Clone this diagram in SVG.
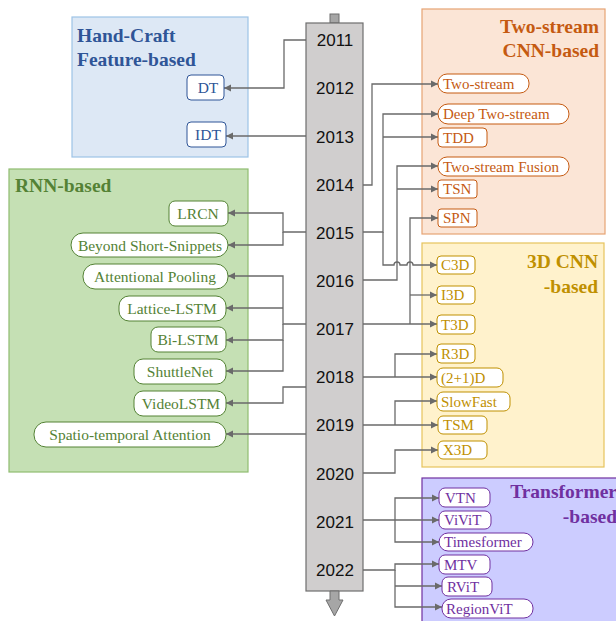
<svg xmlns="http://www.w3.org/2000/svg" width="616" height="621" viewBox="0 0 616 621">
<style>
.yr{font-family:"Liberation Sans",Arial,sans-serif;font-size:17px;fill:#111;text-anchor:middle}
.ttl{font-family:"Liberation Serif","Times New Roman",serif;font-size:19.5px;font-weight:bold}
.nt{font-family:"Liberation Serif","Times New Roman",serif;font-size:15px}
.nl{font-family:"Liberation Serif","Times New Roman",serif;font-size:15.5px;text-anchor:middle}
.c path{fill:none;stroke:#6a6a6a;stroke-width:1.3}
.bn rect{fill:#fff;stroke:#2f5597;stroke-width:1}
.bn text{fill:#2f5597}
.gn rect{fill:#fff;stroke:#548235;stroke-width:1}
.gn text{fill:#548235}
.on rect{fill:#fff;stroke:#c55a11;stroke-width:1}
.on text{fill:#c55a11}
.yn rect{fill:#fff;stroke:#bf9000;stroke-width:1}
.yn text{fill:#bf9000}
.pn rect{fill:#fff;stroke:#7030a0;stroke-width:1}
.pn text{fill:#7030a0}
</style>
<defs>
<marker id="ah" markerWidth="8" markerHeight="8" refX="7" refY="4" orient="auto" markerUnits="userSpaceOnUse"><path d="M0,0.5 L7,4 L0,7.5 z" fill="#6a6a6a"/></marker>
</defs>

<!-- category boxes -->
<g id="hand-craft">
<rect x="72" y="17" width="176" height="140" fill="#dde8f5" stroke="#9dc3e6" stroke-width="1.2"/>
<text class="ttl" x="77" y="42" fill="#2f5597">Hand-Craft</text>
<text class="ttl" x="77" y="66" fill="#2f5597">Feature-based</text>
</g>
<g id="rnn">
<rect x="9" y="169" width="239" height="303" fill="#c5e0b4" stroke="#8fbc70" stroke-width="1.2"/>
<text class="ttl" x="15" y="192" fill="#548235">RNN-based</text>
</g>
<g id="two-stream">
<rect x="422" y="9" width="183" height="225" fill="#fbe5d6" stroke="#e6a373" stroke-width="1.2"/>
<text class="ttl" x="599" y="33" fill="#c55a11" text-anchor="end">Two-stream</text>
<text class="ttl" x="599" y="57" fill="#c55a11" text-anchor="end">CNN-based</text>
</g>
<g id="cnn3d">
<rect x="422" y="243" width="182" height="224" fill="#fff2cc" stroke="#e6c35c" stroke-width="1.2"/>
<text class="ttl" x="598" y="268" fill="#bf9000" text-anchor="end">3D CNN</text>
<text class="ttl" x="598" y="293" fill="#bf9000" text-anchor="end">-based</text>
</g>
<g id="transformer">
<rect x="422" y="478" width="200" height="150" fill="#ccccff" stroke="#7030a0" stroke-width="1.2"/>
<text class="ttl" x="617" y="498" fill="#7030a0" text-anchor="end">Transformer</text>
<text class="ttl" x="617" y="523" fill="#7030a0" text-anchor="end">-based</text>
</g>

<!-- timeline -->
<g id="timeline">
<rect x="330" y="14" width="9" height="9" fill="#a6a6a6" stroke="#6e6e6e" stroke-width="1"/>
<rect x="306" y="23" width="57" height="568" fill="#d0cece" stroke="#6e6e6e" stroke-width="1.2"/>
<polygon points="330,591 339,591 339,600 343,600 334.5,616 326,600 330,600" fill="#a6a6a6" stroke="#6e6e6e" stroke-width="1"/>
<text class="yr" x="335" y="46">2011</text>
<text class="yr" x="335" y="94">2012</text>
<text class="yr" x="335" y="143">2013</text>
<text class="yr" x="335" y="191">2014</text>
<text class="yr" x="335" y="239">2015</text>
<text class="yr" x="335" y="287">2016</text>
<text class="yr" x="335" y="335">2017</text>
<text class="yr" x="335" y="383">2018</text>
<text class="yr" x="335" y="431">2019</text>
<text class="yr" x="335" y="480">2020</text>
<text class="yr" x="335" y="528">2021</text>
<text class="yr" x="335" y="576">2022</text>
</g>

<!-- connectors -->
<g id="connectors" class="c">
<path d="M306,40 H284 V88 H224" marker-end="url(#ah)"/>
<path d="M306,136 H226" marker-end="url(#ah)"/>
<path d="M306,232 H283 V213 H228" marker-end="url(#ah)"/>
<path d="M283,232 V245 H228" marker-end="url(#ah)"/>
<path d="M306,324 H283 V276 H228" marker-end="url(#ah)"/>
<path d="M283,308 H226" marker-end="url(#ah)"/>
<path d="M283,324 V340 H226" marker-end="url(#ah)"/>
<path d="M283,340 V371 H226" marker-end="url(#ah)"/>
<path d="M306,387 H283 V403 H226" marker-end="url(#ah)"/>
<path d="M306,434 H226" marker-end="url(#ah)"/>

<path d="M363,185 H372 V84 H438" marker-end="url(#ah)"/>
<path d="M363,232 H383 V114 H438" marker-end="url(#ah)"/>
<path d="M383,137 H438" marker-end="url(#ah)"/>
<path d="M383,232 V265 H394 a3,3 0 0 1 6,0 H407 a3,3 0 0 1 6,0 H437" marker-end="url(#ah)"/>
<path d="M363,280 H397 V166 H438" marker-end="url(#ah)"/>
<path d="M397,189 H438" marker-end="url(#ah)"/>
<path d="M363,324 H437" marker-end="url(#ah)"/>
<path d="M410,324 V218 H438" marker-end="url(#ah)"/>
<path d="M410,295 H437" marker-end="url(#ah)"/>
<path d="M363,377 H437" marker-end="url(#ah)"/>
<path d="M395,377 V354 H437" marker-end="url(#ah)"/>
<path d="M363,425 H438" marker-end="url(#ah)"/>
<path d="M395,425 V401 H437" marker-end="url(#ah)"/>
<path d="M363,473 H395 V450 H438" marker-end="url(#ah)"/>
<path d="M363,520 H439" marker-end="url(#ah)"/>
<path d="M395,520 V498 H439" marker-end="url(#ah)"/>
<path d="M395,520 V542 H439" marker-end="url(#ah)"/>
<path d="M363,570 H395 V564 H439" marker-end="url(#ah)"/>
<path d="M395,570 V607 H442" marker-end="url(#ah)"/>
<path d="M395,586 H442" marker-end="url(#ah)"/>
</g>

<!-- hand-craft nodes -->
<g id="n-dt" class="bn"><rect x="187" y="75" width="37" height="25" rx="4"/><text class="nl" x="208" y="93">DT</text></g>
<g id="n-idt" class="bn"><rect x="187" y="122" width="39" height="25" rx="4"/><text class="nl" x="208" y="140">IDT</text></g>

<!-- RNN nodes -->
<g id="n-lrcn" class="gn"><rect x="169" y="201" width="59" height="25" rx="6"/><text class="nl" x="198" y="219">LRCN</text></g>
<g id="n-bss" class="gn"><rect x="71" y="233" width="157" height="24" rx="12"/><text class="nl" x="150" y="250.5">Beyond Short-Snippets</text></g>
<g id="n-ap" class="gn"><rect x="83" y="264" width="145" height="25" rx="12"/><text class="nl" x="155" y="282">Attentional Pooling</text></g>
<g id="n-lattice" class="gn"><rect x="119" y="296" width="107" height="25" rx="10"/><text class="nl" x="172" y="314">Lattice-LSTM</text></g>
<g id="n-bilstm" class="gn"><rect x="151" y="327" width="75" height="25" rx="7"/><text class="nl" x="188" y="345">Bi-LSTM</text></g>
<g id="n-shuttle" class="gn"><rect x="134" y="359" width="92" height="25" rx="9"/><text class="nl" x="180" y="377">ShuttleNet</text></g>
<g id="n-videolstm" class="gn"><rect x="134" y="391" width="92" height="25" rx="9"/><text class="nl" x="181" y="409">VideoLSTM</text></g>
<g id="n-sta" class="gn"><rect x="34" y="422" width="192" height="25" rx="12"/><text class="nl" x="130" y="440">Spatio-temporal Attention</text></g>

<!-- two-stream nodes -->
<g id="n-twostream" class="on"><rect x="438" y="74" width="91" height="19" rx="9"/><text class="nt" x="443" y="89">Two-stream</text></g>
<g id="n-deep" class="on"><rect x="438" y="104" width="131" height="20" rx="10"/><text class="nt" x="443" y="119">Deep Two-stream</text></g>
<g id="n-tdd" class="on"><rect x="438" y="128" width="49" height="19" rx="4"/><text class="nt" x="443" y="143">TDD</text></g>
<g id="n-fusion" class="on"><rect x="438" y="157" width="131" height="19" rx="9"/><text class="nt" x="443" y="171.5">Two-stream Fusion</text></g>
<g id="n-tsn" class="on"><rect x="438" y="180" width="39" height="18" rx="3"/><text class="nt" x="443" y="194">TSN</text></g>
<g id="n-spn" class="on"><rect x="438" y="209" width="39" height="18" rx="3"/><text class="nt" x="443" y="223">SPN</text></g>

<!-- 3D CNN nodes -->
<g id="n-c3d" class="yn"><rect x="437" y="256" width="38" height="18" rx="4"/><text class="nt" x="441" y="270">C3D</text></g>
<g id="n-i3d" class="yn"><rect x="437" y="286" width="38" height="18" rx="4"/><text class="nt" x="441" y="300">I3D</text></g>
<g id="n-t3d" class="yn"><rect x="437" y="315" width="38" height="19" rx="4"/><text class="nt" x="441" y="329.5">T3D</text></g>
<g id="n-r3d" class="yn"><rect x="437" y="344" width="38" height="19" rx="4"/><text class="nt" x="441" y="359">R3D</text></g>
<g id="n-21d" class="yn"><rect x="437" y="368" width="66" height="19" rx="6"/><text class="nt" x="441" y="382.5">(2+1)D</text></g>
<g id="n-slowfast" class="yn"><rect x="437" y="392" width="73" height="19" rx="6"/><text class="nt" x="441" y="406.5">SlowFast</text></g>
<g id="n-tsm" class="yn"><rect x="438" y="416" width="49" height="18" rx="5"/><text class="nt" x="443" y="430">TSM</text></g>
<g id="n-x3d" class="yn"><rect x="438" y="441" width="49" height="18" rx="5"/><text class="nt" x="443" y="455">X3D</text></g>

<!-- transformer nodes -->
<g id="n-vtn" class="pn"><rect x="439" y="488" width="51" height="19" rx="6"/><text class="nt" x="445" y="502.5">VTN</text></g>
<g id="n-vivit" class="pn"><rect x="439" y="511" width="52" height="18" rx="6"/><text class="nt" x="444" y="525">ViViT</text></g>
<g id="n-timesformer" class="pn"><rect x="439" y="533" width="94" height="18" rx="9"/><text class="nt" x="444" y="547">Timesformer</text></g>
<g id="n-mtv" class="pn"><rect x="439" y="555" width="51" height="19" rx="6"/><text class="nt" x="444" y="569.5">MTV</text></g>
<g id="n-rvit" class="pn"><rect x="442" y="577" width="50" height="19" rx="6"/><text class="nt" x="447" y="591.5">RViT</text></g>
<g id="n-regionvit" class="pn"><rect x="442" y="599" width="91" height="19" rx="9"/><text class="nt" x="446" y="613.5">RegionViT</text></g>
</svg>
